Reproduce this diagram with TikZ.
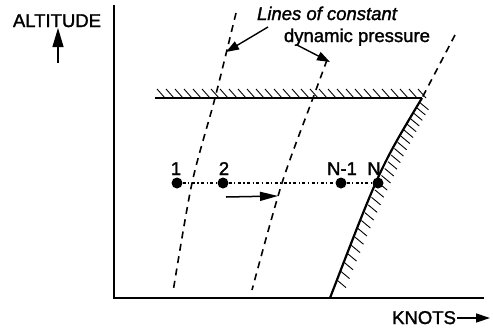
\documentclass[tikz,border=0pt]{standalone}
\usepackage{fontspec}
\setmainfont{Liberation Sans}[FakeBold=0.5]
\newfontfamily\heavy{Liberation Sans}[FakeBold=1.5]
\newfontfamily\heavyit{Liberation Sans Italic}[FakeBold=1.5]
\usetikzlibrary{arrows.meta}
\begin{document}
\begin{tikzpicture}[x=1pt,y=-1pt,
  lbl/.style={font=\fontsize{18.5}{22}\selectfont\heavy, inner sep=0pt, anchor=base},
  axis/.style={line width=2.6pt},
  dashq/.style={line width=1.6pt, dash pattern=on 7pt off 5.5pt},
  hatch/.style={line width=0.9pt},
  dot/.style={circle, fill=black, inner sep=0pt, minimum size=11pt},
  ptr/.style={line width=1.4pt, -{Triangle[length=13pt,width=9pt]}}]
\useasboundingbox (0,0) rectangle (493,330);
% axes
\coordinate (top) at (114,5);
\coordinate (org) at (114,298);
\coordinate (xend) at (484,298);
\draw[axis] (top) -- (org) -- (xend);
% axis labels
\node[lbl] (alt) at (57,27) {ALTITUDE};
\coordinate (alta) at (58,63);
\coordinate (altb) at (58,28);
\draw[line width=1.2pt, -{Triangle[length=19pt,width=11pt]}] (alta) -- (altb);
\node[lbl, anchor=base west] (kn) at (392,324) {KNOTS};
\coordinate (kna) at (490,318);
\draw[line width=1.4pt, -{Triangle[length=14pt,width=9pt]}] (kn.east |- kna) ++(1pt,0) -- (kna);
% ceiling line with hatching
\coordinate (ca) at (155,98);
\coordinate (cb) at (422,98);
\draw[line width=2.2pt] (ca) -- (cb);
\foreach \x in {157,166,...,421} \draw[hatch] (\x,89) -- (\x+8,98);
% right boundary curve
\coordinate (rb) at (330,298);
\draw[line width=2.2pt] (cb) .. controls (380,168) .. (rb);
\foreach \t in {0.03,0.066,...,0.96}{
  \pgfmathsetmacro\px{(1-\t)^2*422+2*\t*(1-\t)*380+\t^2*330}
  \pgfmathsetmacro\py{(1-\t)^2*98+2*\t*(1-\t)*168+\t^2*298}
  \draw[hatch] (\px,\py) -- ++(9,7.5);
}
% dashed lines of constant dynamic pressure
\draw[dashq] plot[smooth] coordinates {(236,13) (215,98) (192,183) (173,292)};
\draw[dashq] plot[smooth] coordinates {(327,60) (313,98) (282,183) (252,290)};
\draw[dashq] (455,35) -- (cb);
% title text and pointers
\node[lbl, font=\fontsize{18.5}{22}\selectfont\heavyit] (t1) at (327,20) {Lines of constant};
\node[lbl] (t2) at (357,42) {dynamic pressure};
\coordinate (p1a) at (268,27);
\coordinate (p1b) at (226,52);
\draw[ptr] (p1a) -- (p1b);
\coordinate (p2a) at (297,45);
\coordinate (p2b) at (330,62);
\draw[ptr] (p2a) -- (p2b);
% dots
\node[dot] (d1) at (177,183) {};
\node[dot] (d2) at (223,183) {};
\node[dot] (dn1) at (341,183) {};
\node[dot] (dn) at (378,183) {};
\draw[line width=1.2pt, dash pattern=on 3pt off 2.5pt on 1.2pt off 2.5pt] (d1) -- (d2) -- (dn1) -- (dn);
\node[lbl] (l1) at (176,175) {1};
\node[lbl] (l2) at (224,175) {2};
\node[lbl] (ln1) at (342,175) {N-1};
\node[lbl] (ln) at (374,175) {N};
\coordinate (ma) at (226,197);
\coordinate (mb) at (278,196);
\draw[line width=1.5pt, -{Triangle[length=18pt,width=9pt]}] (ma) -- (mb);
\end{tikzpicture}
\end{document}
